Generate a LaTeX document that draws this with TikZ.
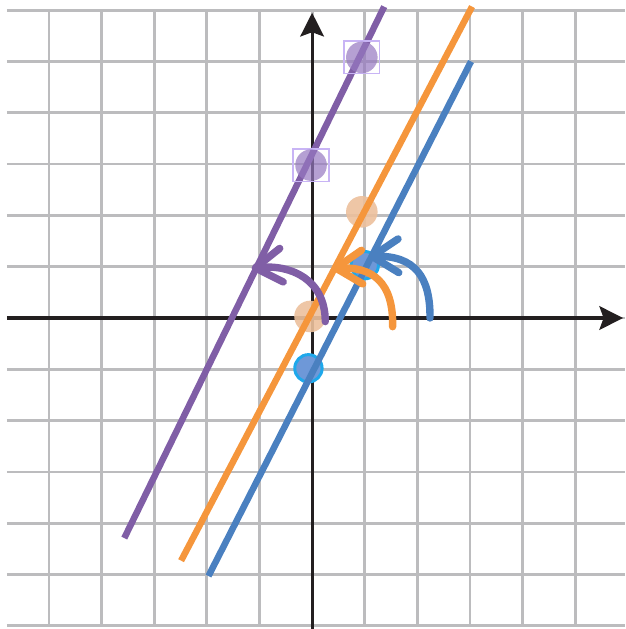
\documentclass[tikz,border=0pt]{standalone}
\usepackage{tikz}
\usetikzlibrary{arrows.meta, positioning}
\usepackage{xcolor}
\definecolor{gridgray}{RGB}{188,188,190}
\definecolor{axisblack}{RGB}{35,31,32}
\definecolor{linepurple}{RGB}{128,94,166}
\definecolor{lineorange}{RGB}{245,150,60}
\definecolor{lineblue}{RGB}{74,128,192}
\definecolor{peach}{RGB}{236,192,156}
\definecolor{sqpurple}{RGB}{200,180,245}
\definecolor{dotpurple}{RGB}{150,120,192}
\definecolor{dotblue}{RGB}{110,152,216}
\definecolor{ringcyan}{RGB}{30,168,235}

\begin{document}
\begin{tikzpicture}[x=1cm, y=0.975cm,
  gridline/.style={draw=gridgray, line width=1.5pt},
  axis/.style={draw=axisblack, line width=1.7pt, -{Stealth[length=0.45cm, width=0.45cm, inset=0.08cm]}},
  graphline/.style={line width=3.5pt},
  turn/.style={line width=4pt, line cap=round, -{Straight Barb[length=0.5cm, width=0.64cm, round]}},
  odot/.style={circle, fill=peach, opacity=0.9, minimum size=0.6cm, inner sep=0pt},
  bdot/.style={circle, fill=dotblue, draw=ringcyan, line width=1.6pt, minimum size=0.52cm, inner sep=0pt},
  psquare/.style={draw=sqpurple, line width=0.8pt, minimum width=0.68cm, minimum height=0.62cm, inner sep=0pt},
  pdot/.style={circle, fill=dotpurple, opacity=0.7, minimum size=0.6cm, inner sep=0pt}]
  \useasboundingbox (-5.932,-6.062) rectangle (5.951,6.199);
  \foreach \x in {-5,...,5} \draw[gridline] (\x,-6) -- (\x,6);
  \foreach \y in {-6,...,6} \draw[gridline] (-5.8,\y) -- (5.951,\y);
  \draw[axis] (-5.8,0) -- (5.91,0);
  \draw[axis] (0,-6.062) -- (0,5.95);

  \node[odot] (o1) at (-0.04,0.03) {};
  \node[odot] (o2) at (0.945,2.07) {};
  \node[bdot] (b1) at (-0.07,-0.98) {};
  \node[bdot] (b2) at (1.0,1.03) {};

  \coordinate (pA) at (-3.57,-4.29); \coordinate (pB) at (1.37,6.07);
  \coordinate (oA) at (-2.49,-4.73); \coordinate (oB) at (3.04,6.07);
  \coordinate (bA) at (-1.97,-5.03); \coordinate (bB) at (3.02,5.0);
  \draw[graphline, linepurple] (pA) -- (pB);
  \draw[graphline, lineorange] (oA) -- (oB);
  \draw[graphline, lineblue] (bA) -- (bB);

  \node[psquare] (q1) at (-0.02,2.98) {};
  \node[psquare] (q2) at (0.945,5.08) {};
  \node[pdot] at (q1.center) {};
  \node[pdot] at (q2.center) {};

  \coordinate (pS) at (0.25,-0.07); \coordinate (pT) at (-1.15,0.97);
  \coordinate (oS) at (1.53,-0.17); \coordinate (oT) at (0.38,0.97);
  \coordinate (bS) at (2.24,0.0);   \coordinate (bT) at (1.07,1.2);
  \draw[turn, linepurple] (pS) .. controls (0.25,0.75) and (-0.4,1.05) .. (pT);
  \draw[turn, lineorange] (oS) .. controls (1.55,0.7) and (1.15,1.0) .. (oT);
  \draw[turn, lineblue] (bS) .. controls (2.25,0.8) and (1.95,1.22) .. (bT);
\end{tikzpicture}
\end{document}
